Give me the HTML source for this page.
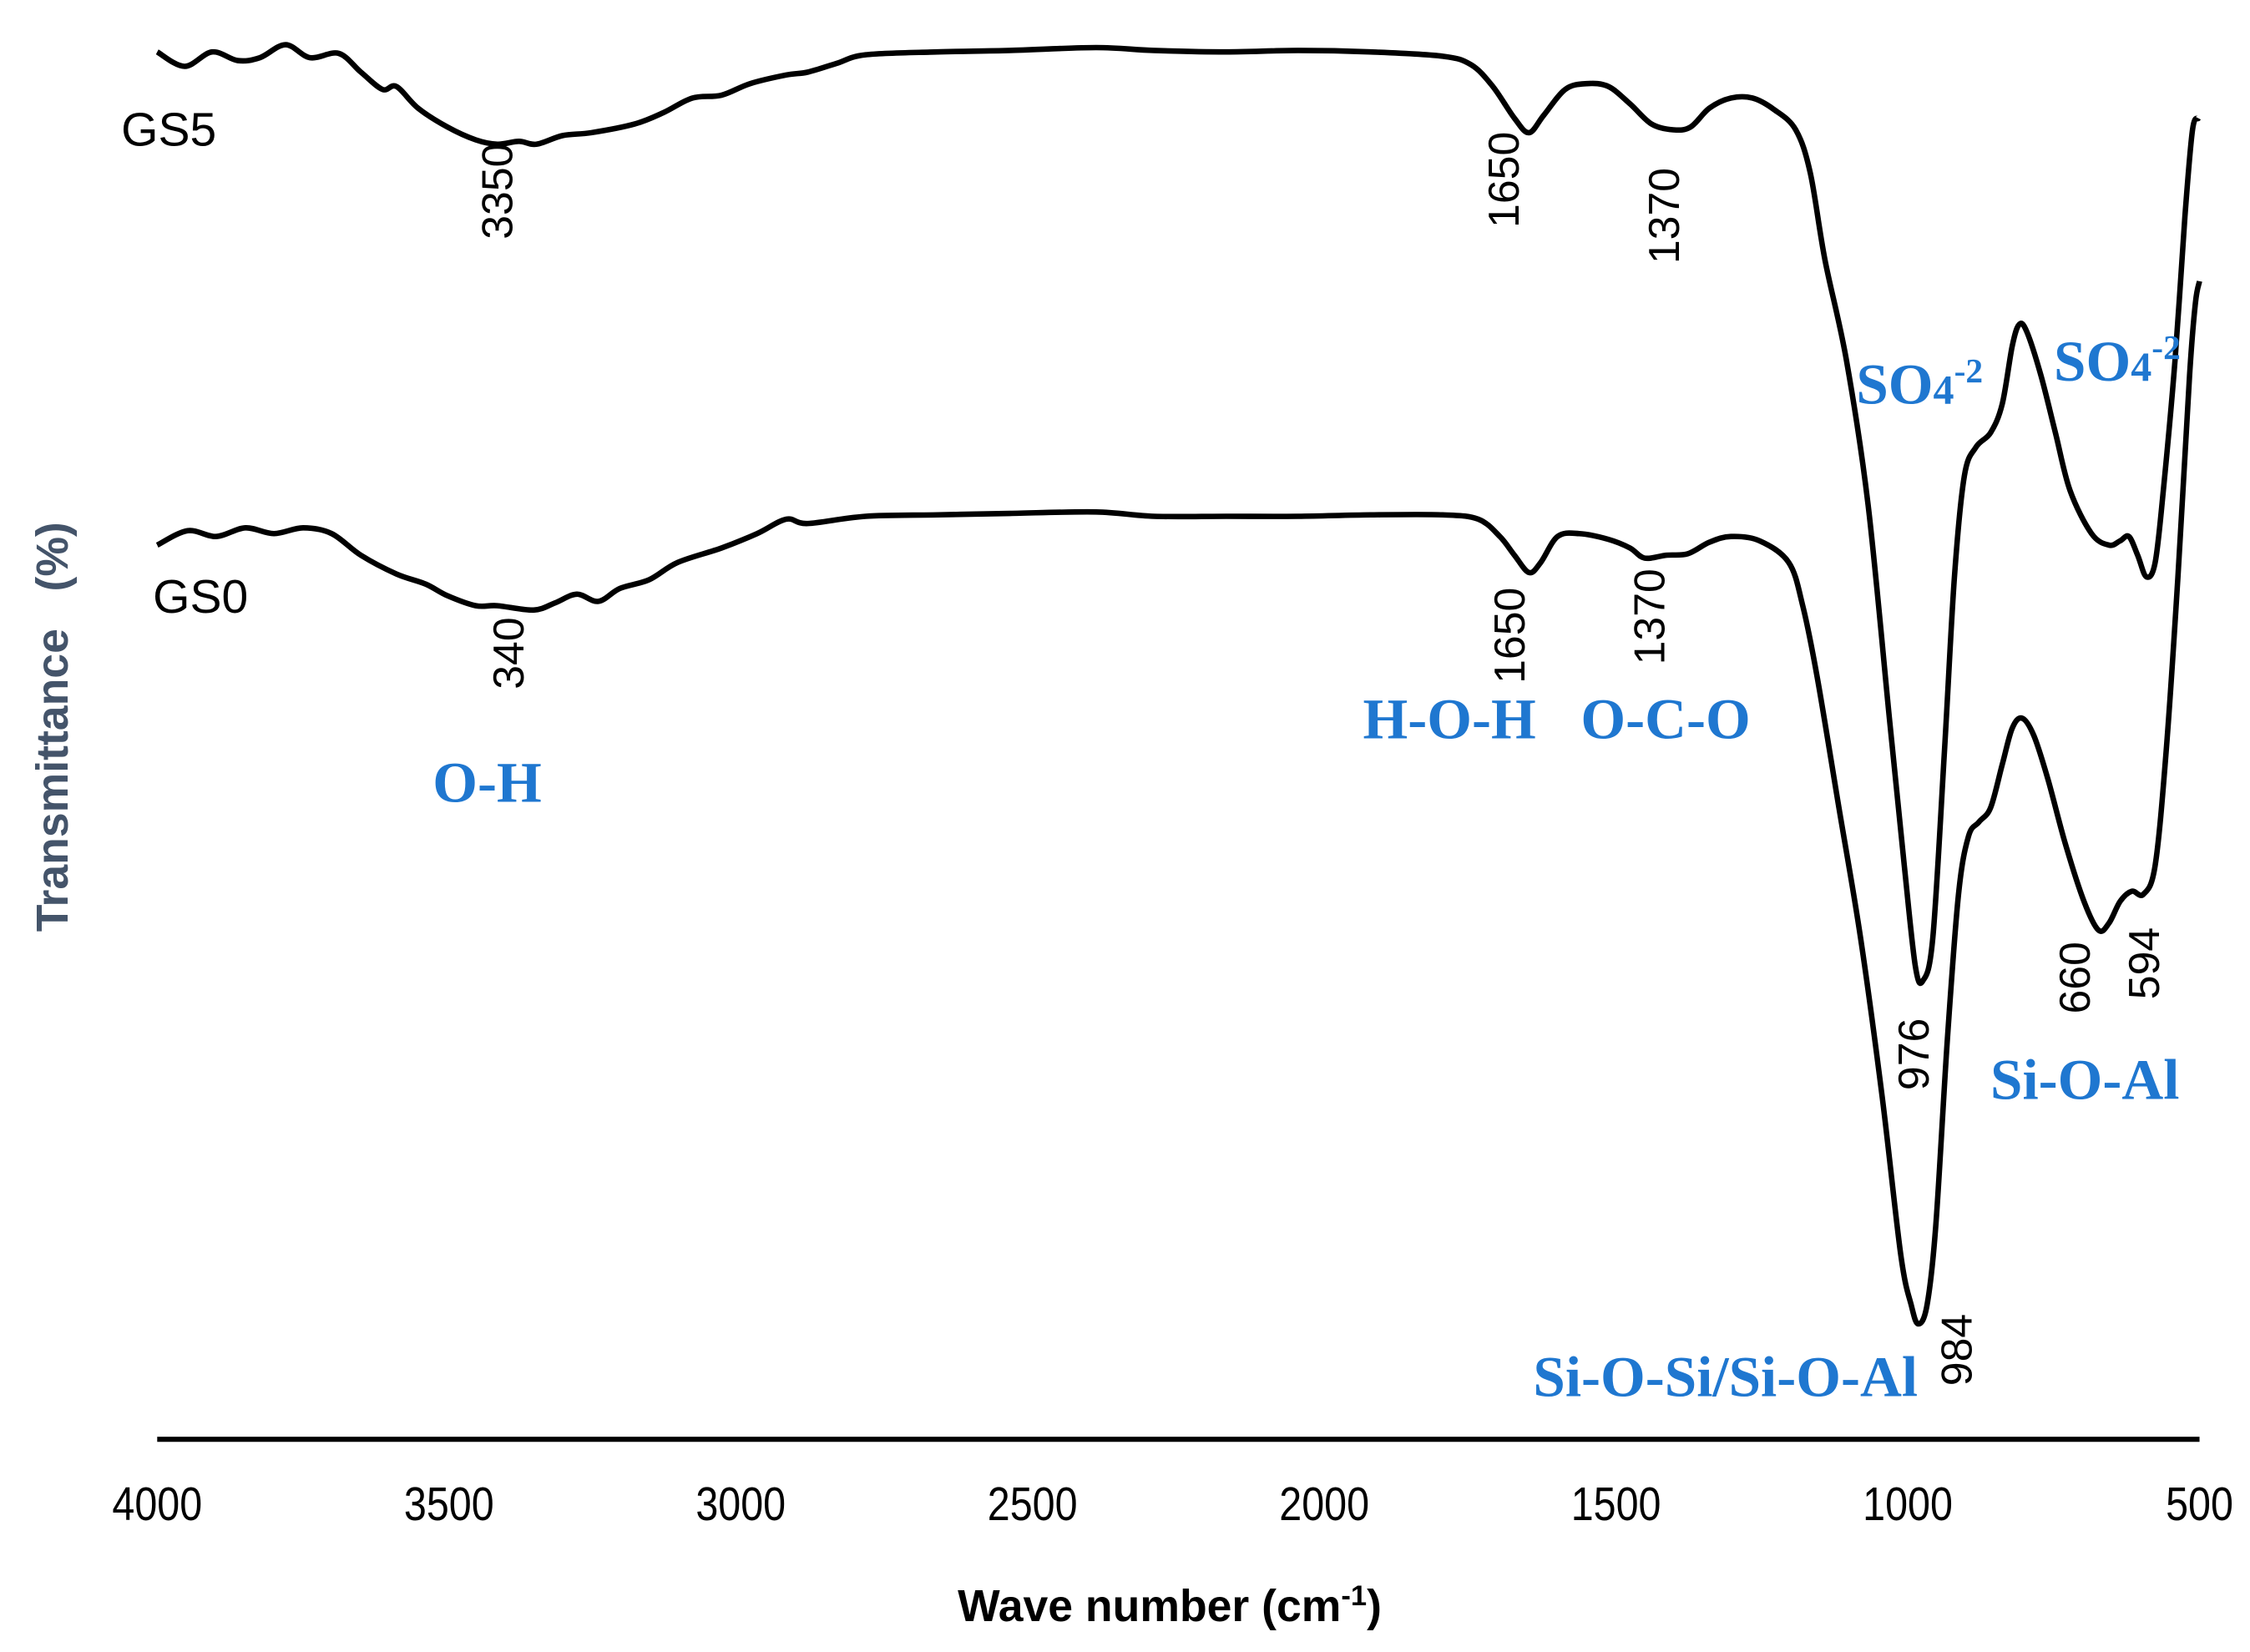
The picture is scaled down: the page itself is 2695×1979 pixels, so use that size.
<!DOCTYPE html>
<html><head><meta charset="utf-8"><style>
html,body{margin:0;padding:0;background:#fff;}
svg{display:block;}
.tick{font-family:"Liberation Sans",sans-serif;font-size:33px;fill:#000;}
.ann{font-family:"Liberation Sans",sans-serif;font-size:30px;fill:#000;}
.blue{font-family:"Liberation Serif",serif;font-weight:bold;font-size:40px;fill:#1f77d0;}
</style></head><body>
<svg id="chart" width="2695" height="1979" viewBox="0 0 1560 1145.5" preserveAspectRatio="none" xmlns="http://www.w3.org/2000/svg">
<rect width="1560" height="1145.5" fill="#fff"/>
<line x1="109" y1="998" x2="1525" y2="998" stroke="#000" stroke-width="3.5"/>
<g id="ticks"></g>
<text x="811" y="1124" text-anchor="middle" font-family="Liberation Sans, sans-serif" font-weight="bold" font-size="31" fill="#000">Wave number (cm<tspan baseline-shift="super" font-size="20">-1</tspan>)</text>
<text transform="translate(47,504) rotate(-90)" text-anchor="middle" font-family="Liberation Sans, sans-serif" font-weight="bold" font-size="31" fill="#44546a" xml:space="preserve">Transmittance   (%)</text>
<g id="series"></g>
<text x="84" y="101" font-family="Liberation Sans, sans-serif" font-size="33" fill="#000">GS5</text>
<text x="106" y="425" font-family="Liberation Sans, sans-serif" font-size="33" fill="#000">GS0</text>
<g>
<text class="ann" transform="translate(355,166) rotate(-90)">3350</text>
<text class="ann" transform="translate(1053,158) rotate(-90)">1650</text>
<text class="ann" transform="translate(1164,183) rotate(-90)">1370</text>
<text class="ann" transform="translate(363,478) rotate(-90)">340</text>
<text class="ann" transform="translate(1057,474) rotate(-90)">1650</text>
<text class="ann" transform="translate(1154,461) rotate(-90)">1370</text>
<text class="ann" transform="translate(1337,756) rotate(-90)">976</text>
<text class="ann" transform="translate(1449,703) rotate(-90)">660</text>
<text class="ann" transform="translate(1497,693) rotate(-90)">594</text>
<text class="ann" transform="translate(1367,961) rotate(-90)">984</text>
</g>
<g>
<text class="blue" x="300" y="556">O-H</text>
<text class="blue" x="945" y="512">H-O-H</text>
<text class="blue" x="1096" y="512">O-C-O</text>
<text class="blue" x="1287" y="280">SO<tspan font-size="29">4</tspan><tspan font-size="24" dy="-15">-2</tspan></text>
<text class="blue" x="1424" y="264">SO<tspan font-size="29">4</tspan><tspan font-size="24" dy="-15">-2</tspan></text>
<text class="blue" x="1380" y="762">Si-O-Al</text>
<text class="blue" x="1063" y="968" font-size="37">Si-O-Si/Si-O-Al</text>
</g>
</svg>
<script>
const tickValues = [4000,3500,3000,2500,2000,1500,1000,500];
const tickLabels = ["4000","3500","3000","2500","2000","1500","1000","500"];
const gs5Wn = [4000,3953,3906,3862,3824,3780,3738,3689,3651,3614,3590,3553,3503,3454,3417,3380,3350,3305,3256,3182,3132,3083,3033,2984,2922,2885,2836,2786,2663,2539,2391,2292,2168,2045,1921,1797,1748,1711,1674,1649,1624,1587,1550,1513,1476,1439,1402,1372,1340,1303,1266,1229,1192,1167,1142,1105,1068,1031,1006,987,974,957,937,920,903,883,858,838,821,809,796,772,747,722,685,655,636,621,606,591,576,562,542,525,512,502];
const gs5T = [96.4,95.4,96.4,95.8,96.0,96.9,96.0,96.3,95.0,93.8,94.0,92.5,91.2,90.3,90.0,90.2,90.0,90.6,90.8,91.4,92.2,93.2,93.4,94.2,94.8,95.0,95.6,96.2,96.4,96.5,96.7,96.5,96.4,96.5,96.4,96.1,95.5,94.0,91.8,90.8,92.0,93.8,94.2,94.0,92.8,91.4,91.0,91.2,92.5,93.2,93.2,92.4,91.0,88.0,82.0,75.0,65.0,50.0,40.0,33.0,32.0,35.0,48.0,60.0,67.0,69.0,70.0,72.0,76.0,77.5,77.0,74.0,70.0,66.0,63.0,62.2,62.5,62.8,61.5,60.0,61.0,66.0,75.0,85.0,91.0,91.8];
const gs0Wn = [4000,3948,3899,3849,3800,3750,3701,3651,3590,3540,3503,3454,3417,3355,3318,3281,3244,3207,3157,3108,3033,2972,2922,2885,2786,2663,2539,2391,2292,2168,2045,1921,1797,1736,1699,1674,1649,1629,1600,1563,1513,1476,1451,1414,1377,1340,1303,1254,1204,1180,1155,1118,1081,1044,1012,994,982,967,952,932,913,896,878,858,838,821,804,784,760,730,698,673,655,636,616,596,576,557,537,517,507,500];
const gs0T = [62.2,63.2,62.8,63.4,63.0,63.4,63.0,61.5,60.2,59.5,58.7,58.0,58.0,57.7,58.2,58.8,58.3,59.2,59.8,61.0,62.0,63.0,64.0,63.7,64.2,64.3,64.4,64.5,64.2,64.2,64.2,64.3,64.3,64.0,62.8,61.5,60.3,61.0,62.8,63.0,62.6,62.0,61.3,61.5,61.6,62.4,62.8,62.5,61.0,58.0,53.0,44.0,35.0,24.0,13.0,9.5,8.2,9.5,15.0,28.0,38.0,42.0,43.0,44.0,47.0,49.5,50.2,49.0,46.0,41.5,37.5,35.5,36.0,37.5,38.2,38.0,40.0,48.0,60.0,74.0,79.0,80.5];

const NS = "http://www.w3.org/2000/svg";
function xScale(wn){ return 109 + (4000 - wn) * (1416/3500); }
function yScale(t){ return 1000 - t * 10; }

const tg = document.getElementById('ticks');
tickValues.forEach((v,i)=>{
  const t = document.createElementNS(NS,'text');
  t.setAttribute('class','tick');
  t.setAttribute('x', xScale(v));
  t.setAttribute('y', 1054);
  t.setAttribute('text-anchor','middle');
  t.setAttribute('transform', `translate(${xScale(v)},0) scale(0.85,1) translate(${-xScale(v)},0)`);
  t.textContent = tickLabels[i];
  
  
  tg.appendChild(t);
});

function smoothPath(xs, ys){
  const p = xs.map((w,i)=>[xScale(w), yScale(ys[i])]);
  let d = `M${p[0][0]},${p[0][1]}`;
  for(let i=0;i<p.length-1;i++){
    const p0=p[Math.max(0,i-1)], p1=p[i], p2=p[i+1], p3=p[Math.min(p.length-1,i+2)];
    const c1=[p1[0]+(p2[0]-p0[0])/6, p1[1]+(p2[1]-p0[1])/6];
    const c2=[p2[0]-(p3[0]-p1[0])/6, p2[1]-(p3[1]-p1[1])/6];
    d += ` C${c1[0]},${c1[1]} ${c2[0]},${c2[1]} ${p2[0]},${p2[1]}`;
  }
  return d;
}
const sg = document.getElementById('series');
const p5 = document.createElementNS(NS,'path');
p5.setAttribute('d', smoothPath(gs5Wn, gs5T));
p5.setAttribute('fill','none'); p5.setAttribute('stroke','#000'); p5.setAttribute('stroke-width','3.8'); p5.setAttribute('stroke-linejoin','round');


sg.appendChild(p5);
const p0 = document.createElementNS(NS,'path');
p0.setAttribute('d', smoothPath(gs0Wn, gs0T));
p0.setAttribute('fill','none'); p0.setAttribute('stroke','#000'); p0.setAttribute('stroke-width','3.8'); p0.setAttribute('stroke-linejoin','round');


sg.appendChild(p0);
</script>
</body></html>
